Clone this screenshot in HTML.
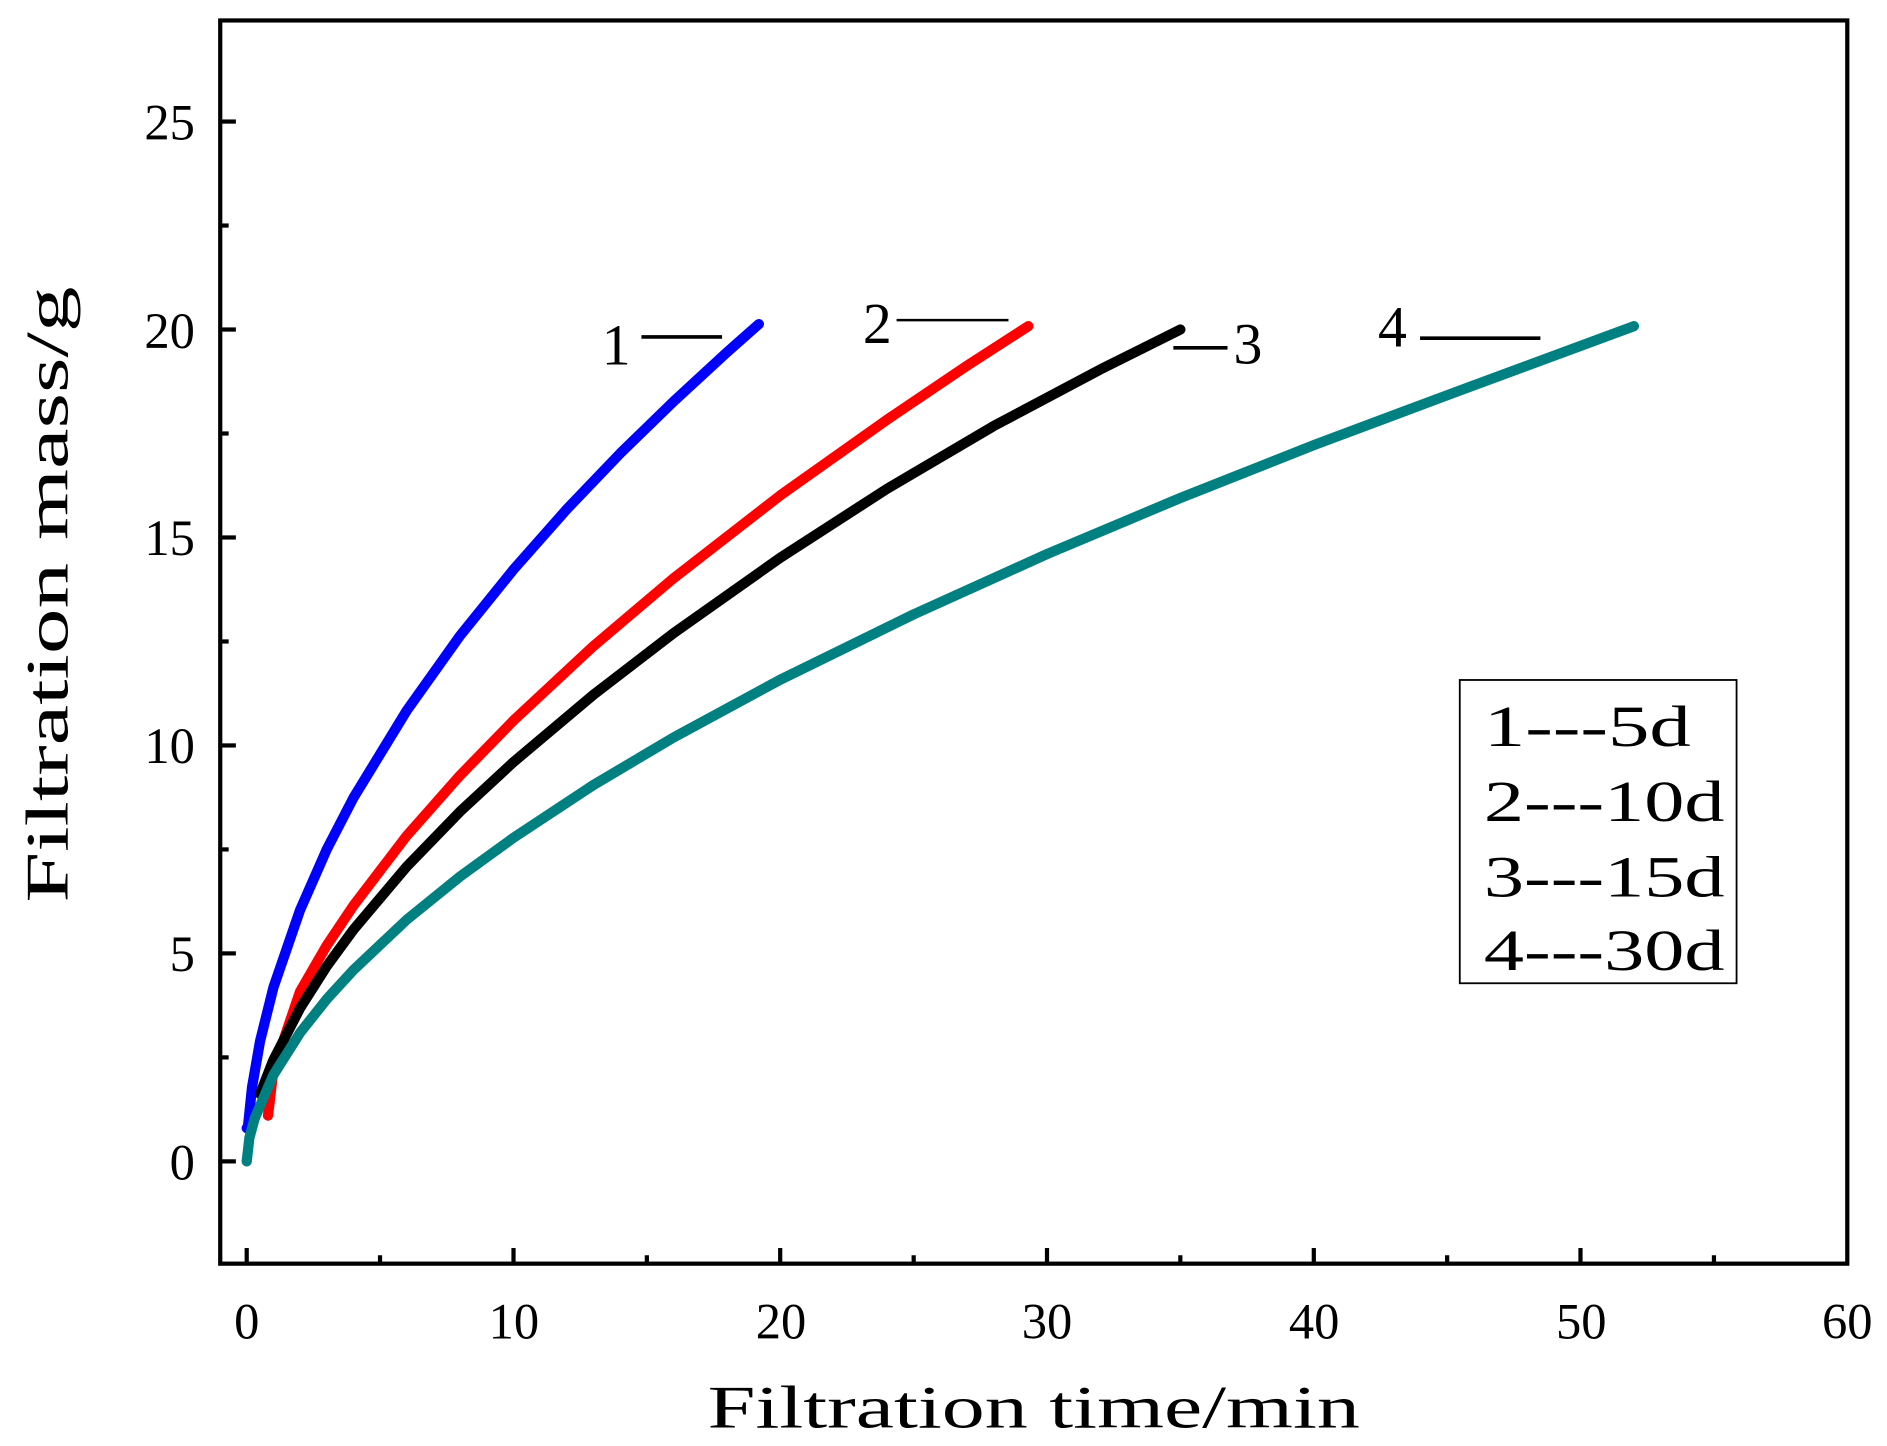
<!DOCTYPE html>
<html><head><meta charset="utf-8"><style>html,body{margin:0;padding:0;background:#fff}svg{display:block}</style></head>
<body>
<svg width="1887" height="1446" viewBox="0 0 1568 1201.5" preserveAspectRatio="none" xmlns="http://www.w3.org/2000/svg" font-family="Liberation Serif, serif">
<rect x="0" y="0" width="1568" height="1202" fill="#fff"/>
<g fill="none" stroke-width="8.5" stroke-linecap="round" stroke-linejoin="round">
<polyline stroke="#0000ff" points="205,937.4 206.1,935.6 209.4,903.5 216.1,865.1 227.2,820.5 249.3,756.3 271.5,705.8 293.7,662.9 338,590.4 382.3,528.2 426.7,473.2 471,423.1 515.3,376.8 559.7,333.6 604,292.8 630.6,269.3"/>
<polyline stroke="#ff0000" points="222.7,927 227.2,889 249.3,824 271.5,785.6 293.7,752.5 338,694.4 382.3,644.3 426.7,598.7 493.2,536.8 559.7,480.5 648.3,411.7 737,348.8 803.5,303.9 854.5,271"/>
<polyline stroke="#000000" points="216.1,909 227.2,880.7 249.3,837.8 271.5,802.9 293.7,772.5 338,720 382.3,674.3 426.7,633.2 493.2,577.2 559.7,526.1 648.3,463.5 737,406.2 825.7,354 914.3,307 980.8,273.8"/>
<polyline stroke="#008080" points="205,965 207.2,945.6 211.7,929.1 227.2,893.1 249.3,858.2 271.5,830.2 293.7,806 338,764.2 382.3,728.3 426.7,696.1 493.2,652.2 559.7,612.8 648.3,564.8 759.2,510.5 870,460.4 980.8,413.8 1091.7,369.9 1202.5,328.4 1357.7,271"/>
</g>
<rect x="183" y="17" width="1352" height="1033" fill="none" stroke="#000" stroke-width="3.5"/>
<g stroke="#000" stroke-width="3.5">
<line x1="205" y1="1050" x2="205" y2="1037"/><line x1="315.8" y1="1050" x2="315.8" y2="1043"/>
<line x1="426.7" y1="1050" x2="426.7" y2="1037"/><line x1="537.5" y1="1050" x2="537.5" y2="1043"/>
<line x1="648.3" y1="1050" x2="648.3" y2="1037"/><line x1="759.2" y1="1050" x2="759.2" y2="1043"/>
<line x1="870" y1="1050" x2="870" y2="1037"/><line x1="980.8" y1="1050" x2="980.8" y2="1043"/>
<line x1="1091.7" y1="1050" x2="1091.7" y2="1037"/><line x1="1202.5" y1="1050" x2="1202.5" y2="1043"/>
<line x1="1313.3" y1="1050" x2="1313.3" y2="1037"/><line x1="1424.2" y1="1050" x2="1424.2" y2="1043"/>
<line x1="183" y1="965" x2="196" y2="965"/><line x1="183" y1="878.6" x2="190" y2="878.6"/>
<line x1="183" y1="792.2" x2="196" y2="792.2"/><line x1="183" y1="705.8" x2="190" y2="705.8"/>
<line x1="183" y1="619.4" x2="196" y2="619.4"/><line x1="183" y1="533" x2="190" y2="533"/>
<line x1="183" y1="446.6" x2="196" y2="446.6"/><line x1="183" y1="360.2" x2="190" y2="360.2"/>
<line x1="183" y1="273.8" x2="196" y2="273.8"/><line x1="183" y1="187.4" x2="190" y2="187.4"/>
<line x1="183" y1="101" x2="196" y2="101"/>
</g>
<g font-size="42" text-anchor="middle" fill="#000">
<text x="205" y="1112">0</text><text x="427" y="1112">10</text><text x="649" y="1112">20</text><text x="870" y="1112">30</text><text x="1092" y="1112">40</text><text x="1314" y="1112">50</text><text x="1535" y="1112">60</text>
</g>
<g font-size="42" text-anchor="end" fill="#000">
<text x="162" y="980">0</text><text x="162" y="807">5</text><text x="162" y="634">10</text><text x="162" y="461">15</text><text x="162" y="289">20</text><text x="162" y="116">25</text>
</g>
<text x="588" y="1186" font-size="50" textLength="542" lengthAdjust="spacingAndGlyphs">Filtration time/min</text>
<text transform="translate(56,750) rotate(-90)" font-size="50" textLength="512" lengthAdjust="spacingAndGlyphs">Filtration mass/g</text>
<g font-size="48" fill="#000">
<text x="500" y="303">1</text><line x1="533" y1="280" x2="600" y2="280" stroke="#000" stroke-width="3"/>
<text x="717" y="285">2</text><line x1="745" y1="266" x2="838" y2="266" stroke="#000" stroke-width="2"/>
<line x1="975" y1="289" x2="1020" y2="289" stroke="#000" stroke-width="3"/><text x="1025" y="302">3</text>
<text x="1145" y="288">4</text><line x1="1180" y1="281" x2="1280" y2="281" stroke="#000" stroke-width="3"/>
</g>
<rect x="1213" y="565" width="230" height="252" fill="none" stroke="#000" stroke-width="1.5"/>
<g font-size="48" fill="#000">
<text x="1233" y="620" textLength="172" lengthAdjust="spacingAndGlyphs">1---5d</text>
<text x="1233" y="682" textLength="200" lengthAdjust="spacingAndGlyphs">2---10d</text>
<text x="1233" y="745" textLength="200" lengthAdjust="spacingAndGlyphs">3---15d</text>
<text x="1233" y="806" textLength="200" lengthAdjust="spacingAndGlyphs">4---30d</text>
</g>
</svg>
</body></html>
